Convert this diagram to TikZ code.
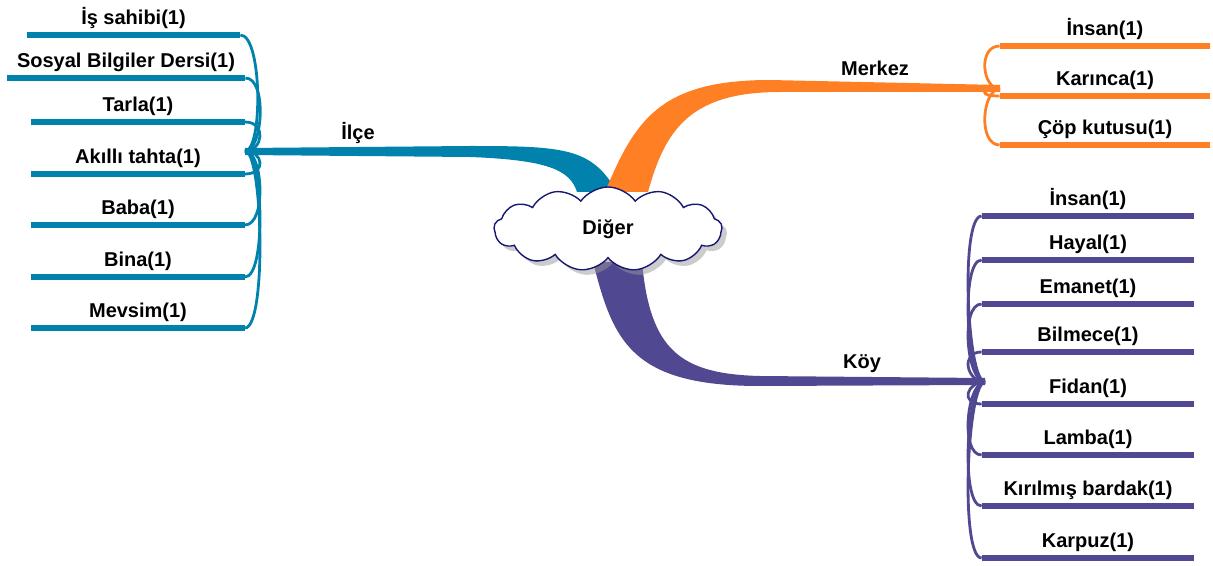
\documentclass[tikz,border=0pt]{standalone}
\usepackage{fontspec}
\setmainfont{Liberation Sans}
\usetikzlibrary{shapes,shadows,calc}

\definecolor{ilcecol}{RGB}{0,130,172}
\definecolor{merkezcol}{RGB}{255,128,36}
\definecolor{koycol}{RGB}{80,72,144}
\definecolor{cloudline}{RGB}{24,24,112}

\begin{document}
\begin{tikzpicture}[x=0.5pt, y=-0.5pt,
    leaf/.style={anchor=south, inner xsep=0pt, inner ysep=3pt, minimum width=106.5pt,
      text height=7pt, text depth=2pt, font=\bfseries\fontsize{10}{12}\selectfont},
    branchlabel/.style={font=\bfseries\fontsize{10}{12}\selectfont},
    leafline/.style={line width=3.1pt},
    twig/.style={line width=1.4pt}
  ]
  \useasboundingbox (0,0) rectangle (1213,566);

  % main branches (tapered)
  \fill[ilcecol] (617,192) .. controls (592,148) and (565,146) .. (470,146) -- (245,148)
    -- (245,155) -- (470,157) .. controls (548,160) and (570,170) .. (577,192) -- cycle;
  \fill[merkezcol] (605,192) .. controls (635,120) and (660,80) .. (770,80) -- (1000,85)
    -- (1000,92) -- (780,92) .. controls (690,92) and (665,130) .. (648,192) -- cycle;
  \fill[koycol] (593,262) .. controls (613,340) and (630,386) .. (760,386) -- (985,385)
    -- (985,378) -- (760,376) .. controls (680,374) and (650,350) .. (642,262) -- cycle;

  % central topic
  \node[cloud, cloud puffs=13, cloud puff arc=110, aspect=2.8, draw=cloudline, line width=0.7pt,
    fill=white, minimum width=114pt, minimum height=42pt,
    drop shadow={shadow xshift=2.5pt, shadow yshift=-2.5pt, fill=black!40},
    font=\bfseries\fontsize{10}{12}\selectfont] (diger) at (608,229) {Diğer};

  \node[branchlabel] (ilce) at (358,133) {İlçe};
  \node[branchlabel] (merkez) at (875,68) {Merkez};
  \node[branchlabel] (koy) at (862,364) {Köy};

  \coordinate (ilce hub) at (245,151);
  \coordinate (merkez hub) at (1000,89);
  \coordinate (koy hub) at (985,382);

  % Ilce leaves
  \node[leaf] (is) at (133.5,35) {İş sahibi(1)};
  \node[leaf, minimum width=119pt] (sosyal) at (126,78) {Sosyal Bilgiler Dersi(1)};
  \foreach \n/\y/\txt in {tarla/122/Tarla(1), akilli/174/Akıllı tahta(1), baba/225/Baba(1),
      bina/277/Bina(1), mevsim/328/Mevsim(1)}
    \node[leaf] (\n) at (138,\y) {\txt};
  \foreach \n in {is,sosyal,tarla,akilli,baba,bina,mevsim} {
    \draw[leafline, ilcecol] (\n.south west) -- (\n.south east);
    \draw[twig, ilcecol] (ilce hub) .. controls +(18,0) and +(22,0) .. (\n.south east);
  }

  % Merkez leaves
  \foreach \n/\y/\txt in {insanm/46/İnsan(1), karinca/96/Karınca(1), cop/145/Çöp kutusu(1)}
    \node[leaf, minimum width=105pt] (\n) at (1105,\y) {\txt};
  \foreach \n in {insanm,karinca,cop} {
    \draw[leafline, merkezcol] (\n.south west) -- (\n.south east);
    \draw[twig, merkezcol] (merkez hub) .. controls +(-18,0) and +(-22,0) .. (\n.south west);
  }

  % Koy leaves
  \foreach \n/\y/\txt in {insank/216/İnsan(1), hayal/260/Hayal(1), emanet/304/Emanet(1),
      bilmece/352/Bilmece(1), fidan/404/Fidan(1), lamba/455/Lamba(1),
      kirilmis/506/Kırılmış bardak(1), karpuz/558/Karpuz(1)}
    \node[leaf, minimum width=106pt] (\n) at (1088,\y) {\txt};
  \foreach \n in {insank,hayal,emanet,bilmece,fidan,lamba,kirilmis,karpuz} {
    \draw[leafline, koycol] (\n.south west) -- (\n.south east);
    \draw[twig, koycol] (koy hub) .. controls +(-18,0) and +(-22,0) .. (\n.south west);
  }
\end{tikzpicture}
\end{document}
